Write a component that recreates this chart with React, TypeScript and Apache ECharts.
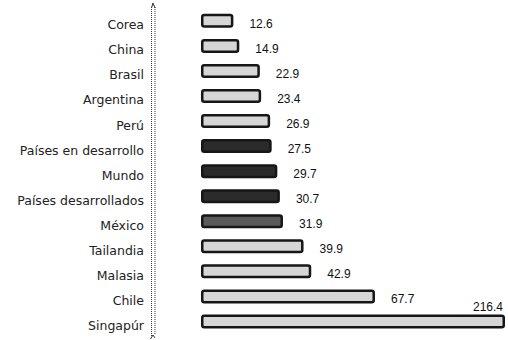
import React, { useEffect, useRef } from "react";
import * as echarts from "echarts";

const categories = [
  "Corea",
  "China",
  "Brasil",
  "Argentina",
  "Perú",
  "Países en desarrollo",
  "Mundo",
  "Países desarrollados",
  "México",
  "Tailandia",
  "Malasia",
  "Chile",
  "Singapúr",
];
const values = [12.6, 14.9, 22.9, 23.4, 26.9, 27.5, 29.7, 30.7, 31.9, 39.9, 42.9, 67.7, 216.4];

// broken axis: the longest bar is cut at the right edge of the plot
const X_MAX = 118.3;

const darkGroup = ["Países en desarrollo", "Mundo", "Países desarrollados"];
const midGroup = ["México"];

function fillFor(name: string): string {
  if (darkGroup.includes(name)) return "#2b2b2b";
  if (midGroup.includes(name)) return "#5a5a5a";
  return "#d6d6d6";
}

export default function App() {
  const ref = useRef<HTMLDivElement>(null);

  useEffect(() => {
    if (!ref.current) return;
    const chart = echarts.init(ref.current, null, { renderer: "svg" });

    const data = values.map((v, i) => {
      const item: any = {
        value: Math.min(v, X_MAX),
        itemStyle: { color: fillFor(categories[i]) },
      };
      if (v > X_MAX) {
        item.label = {
          position: ["100%", 0],
          align: "right",
          verticalAlign: "bottom",
          offset: [-2, -1],
        };
      }
      return item;
    });

    chart.setOption({
      animation: false,
      backgroundColor: "#ffffff",
      grid: {
        left: 201,
        right: 3,
        top: 8.3,
        bottom: 6,
        containLabel: false,
        outerBoundsMode: "none",
      },
      xAxis: {
        type: "value",
        min: 0,
        max: X_MAX,
        show: false,
        splitLine: { show: false },
      },
      yAxis: {
        type: "category",
        data: categories,
        inverse: true,
        offset: 48,
        axisLine: { show: false },
        axisTick: { show: false },
        axisLabel: {
          margin: 9,
          color: "#222",
          fontFamily: "DejaVu Sans",
          fontSize: 12.5,
          verticalAlign: "top",
          lineHeight: 8,
        },
      },
      series: [
        {
          type: "bar",
          data,
          barWidth: 14,
          itemStyle: {
            borderColor: "#161616",
            borderWidth: 2.5,
            borderRadius: 2,
          },
          label: {
            show: true,
            position: "right",
            distance: 16,
            offset: [0, 3],
            color: "#111",
            fontFamily: "Liberation Sans",
            fontSize: 12,
            formatter: (p: any) => values[p.dataIndex].toFixed(1),
          },
        },
      ],
      graphic: [
        {
          type: "line",
          shape: { x1: 151.5, y1: 7, x2: 151.5, y2: 337 },
          style: { stroke: "#333", lineWidth: 1, lineDash: [1, 1] },
          silent: true,
        },
        {
          type: "line",
          shape: { x1: 155, y1: 7, x2: 155, y2: 335 },
          style: { stroke: "#333", lineWidth: 1, lineDash: [1, 1] },
          silent: true,
        },
        {
          type: "polyline",
          shape: { points: [[151.5, 8], [153, 3], [155, 8]] },
          style: { stroke: "#333", lineWidth: 1, fill: "none" },
          silent: true,
        },
        {
          type: "polyline",
          shape: { points: [[150.5, 339], [153, 335], [155, 338]] },
          style: { stroke: "#333", lineWidth: 1, fill: "none" },
          silent: true,
        },
      ],
    });

    return () => chart.dispose();
  }, []);

  return <div ref={ref} style={{ width: 508, height: 340, position: "absolute", left: 0, top: 0 }} />;
}
